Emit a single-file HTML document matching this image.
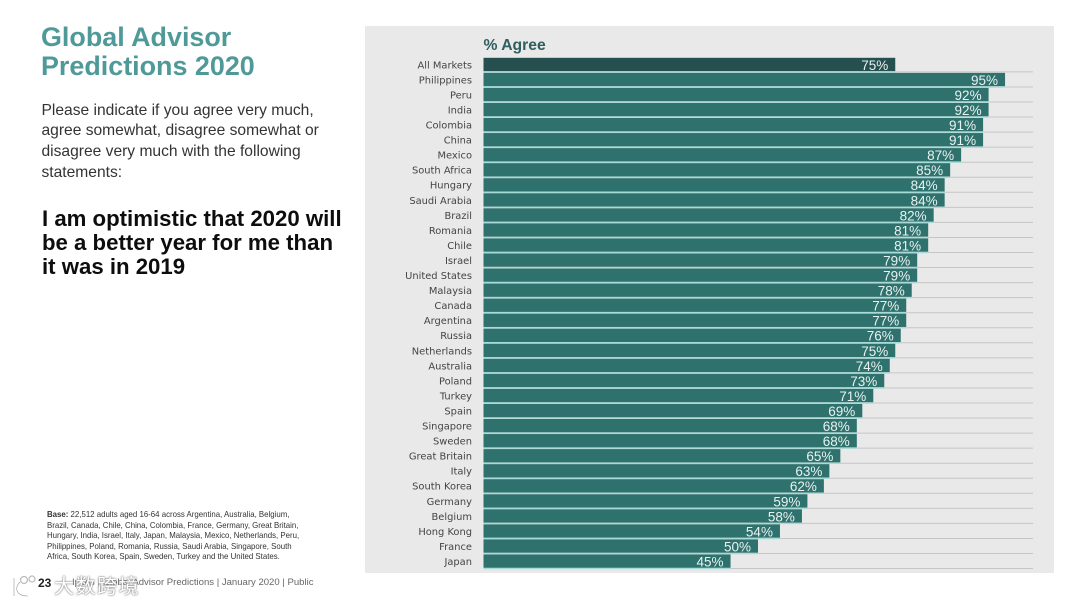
<!DOCTYPE html>
<html lang="en">
<head>
<meta charset="utf-8">
<title>Global Advisor Predictions 2020</title>
<style>
html,body{margin:0;padding:0;background:#fff;}
body{width:1080px;height:607px;overflow:hidden;position:relative;font-family:"Liberation Sans",sans-serif;}
.t{position:absolute;white-space:nowrap;margin:0;}
#title{left:41px;top:23px;font-size:26.9px;line-height:29px;font-weight:bold;color:#4f9a98;}
#intro{left:41.5px;top:100.5px;font-size:15.6px;line-height:20.7px;color:#333;}
#statement{left:42px;top:207px;font-size:22.2px;line-height:24.2px;font-weight:bold;color:#0d0d0d;}
#base{left:47px;top:510px;font-size:7.85px;line-height:10.6px;color:#333;}
#pagenum{left:38px;top:577px;font-size:12px;line-height:12px;font-weight:bold;color:#222;}
#footer{left:72px;top:577px;font-size:9.55px;line-height:12px;color:#666;}
#watermark{left:54px;top:574px;font-family:"Liberation Sans","Noto Sans CJK SC",sans-serif;font-size:20px;line-height:26px;letter-spacing:1.5px;color:#fff;text-shadow:0 0 2px #777,0 0 1px #777;}
#logo{position:absolute;left:8px;top:574px;}
#chart{position:absolute;left:0;top:0;}
</style>
</head>
<body>
<h1 class="t" id="title">Global Advisor<br>Predictions 2020</h1>
<p class="t" id="intro">Please indicate if you agree very much,<br>agree somewhat, disagree somewhat or<br>disagree very much with the following<br>statements:</p>
<p class="t" id="statement">I am optimistic that 2020 will<br>be a better year for me than<br>it was in 2019</p>
<p class="t" id="base"><b>Base:</b> 22,512 adults aged 16-64 across Argentina, Australia, Belgium,<br>Brazil, Canada, Chile, China, Colombia, France, Germany, Great Britain,<br>Hungary, India, Israel, Italy, Japan, Malaysia, Mexico, Netherlands, Peru,<br>Philippines, Poland, Romania, Russia, Saudi Arabia, Singapore, South<br>Africa, South Korea, Spain, Sweden, Turkey and the United States.</p>
<div class="t" id="footer">Ipsos | Global Advisor Predictions | January 2020 | Public</div>
<svg id="logo" width="44" height="26">
  <path d="M6 4 V22 M12 8 C6 14 8 22 20 22" fill="none" stroke="#fff" stroke-width="3"/>
  <path d="M6 4 V22 M12 8 C6 14 8 22 20 22" fill="none" stroke="#999" stroke-width="0.6"/>
  <circle cx="16" cy="6" r="3.5" fill="none" stroke="#bbb" stroke-width="1.2"/>
  <circle cx="24" cy="5" r="3" fill="none" stroke="#bbb" stroke-width="1.2"/>
</svg>
<div class="t" id="watermark">大数跨境</div>
<div class="t" id="pagenum">23</div>
<svg id="chart" width="1080" height="607" xmlns="http://www.w3.org/2000/svg"></svg>
<script>
const markets = ["All Markets","Philippines","Peru","India","Colombia","China","Mexico","South Africa","Hungary","Saudi Arabia","Brazil","Romania","Chile","Israel","United States","Malaysia","Canada","Argentina","Russia","Netherlands","Australia","Poland","Turkey","Spain","Singapore","Sweden","Great Britain","Italy","South Korea","Germany","Belgium","Hong Kong","France","Japan"];
const agreeValues = [75,95,92,92,91,91,87,85,84,84,82,81,81,79,79,78,77,77,76,75,74,73,71,69,68,68,65,63,62,59,58,54,50,45];
const chartTitle = "% Agree";

const NS = "http://www.w3.org/2000/svg";
const svg = document.getElementById("chart");
const X0 = 483.5, PER_PCT = 5.49, Y0 = 57.8, PITCH = 15.05, BAR_H = 13.3, GRID_END = 1033;
const xScale = v => X0 + v * PER_PCT;
const yScale = i => Y0 + i * PITCH;

function make(tag, attrs, text) {
  const el = document.createElementNS(NS, tag);
  for (const k in attrs) el.setAttribute(k, attrs[k]);
  if (text !== undefined) el.textContent = text;
  svg.appendChild(el);
  return el;
}

const panel = make("rect", {x:365, y:26, width:689, height:547, fill:"#e9e9e9"});



const heading = make("text", {x:483.5, y:50, "font-family":"Liberation Sans, sans-serif", "font-size":15.7, "font-weight":"bold", fill:"#2f5f5e"}, chartTitle);



markets.forEach((name, i) => {
  const y = yScale(i);

  const grid = make("line", {x1:X0, x2:GRID_END, y1:y + BAR_H + 0.8, y2:y + BAR_H + 0.8, stroke:"#c6c6c6", "stroke-width":1});
  
  

  const sep = make("line", {x1:X0, x2:xScale(agreeValues[i]), y1:y + BAR_H + 0.8, y2:y + BAR_H + 0.8, stroke:"#a8dad7", "stroke-width":1.5});
  
  

  const bar = make("rect", {x:X0, y:y, width:xScale(agreeValues[i]) - X0, height:BAR_H, fill:i === 0 ? "#264f4f" : "#2f716d"});
  
  

  const label = make("text", {x:472, y:y + 10.5, "text-anchor":"end", "font-family":"DejaVu Sans, sans-serif", "font-size":9.9, fill:"#444"}, name);
  
  

  const value = make("text", {x:xScale(agreeValues[i]) - 7, y:y + 12, "text-anchor":"end", "font-family":"Liberation Sans, sans-serif", "font-size":13.5, fill:"#e8f2f1"}, agreeValues[i] + "%");
  
  
});
</script>
</body>
</html>
